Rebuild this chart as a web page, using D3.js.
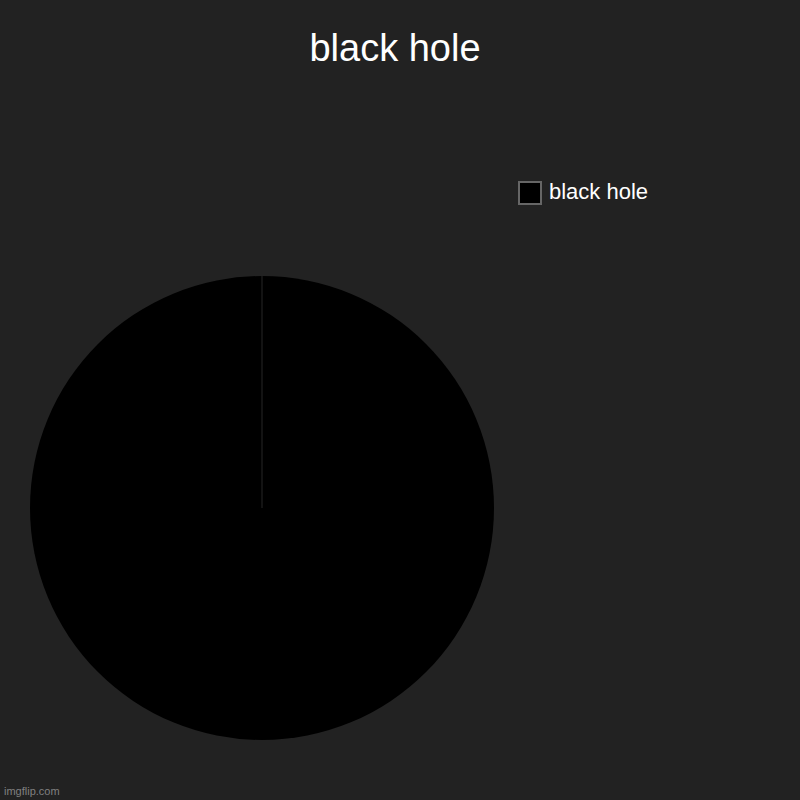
<!DOCTYPE html>
<html>
<head>
<meta charset="utf-8">
<script src="https://cdn.jsdelivr.net/npm/d3@7"></script>
<style>
  html, body { margin: 0; padding: 0; background: #222222; }
</style>
</head>
<body>
<div id="chart"></div>
<script>
// The data...
var chartTitle = 'black hole';
var labels     = [ 'black hole' ];
var values     = [ 100 ];
var colours    = [ '#000000' ];

var width  = 800;
var height = 800;

var svg = d3.select ('#chart').append ('svg')
            .attr ('width', width)
            .attr ('height', height)
            .style ('display', 'block');

svg.append ('rect')
   .attr ('width', width)
   .attr ('height', height)
   .attr ('fill', '#222222');

// title
svg.append ('text')
   .attr ('x', 395)
   .attr ('y', 61)
   .attr ('text-anchor', 'middle')
   .attr ('font-family', 'Liberation Sans, Arial, sans-serif')
   .attr ('font-size', '38px')
   .attr ('fill', '#ffffff')
   .text (chartTitle);

// pie
var radius = 232;
var pie = d3.pie ().sort (null).value (function (d) { return d; });
var arc = d3.arc ().innerRadius (0).outerRadius (radius);

var g = svg.append ('g')
           .attr ('transform', 'translate(262,508)');

var pieData = pie (values);

g.selectAll ('path')
 .data (pieData)
 .enter ()
 .append ('path')
 .attr ('d', arc)
 .attr ('fill', function (d, i) { return colours[i]; });

// the seam line where the single slice starts/ends
g.append ('line')
 .attr ('x1', 0)
 .attr ('y1', 0)
 .attr ('x2', radius * Math.sin (pieData[0].startAngle))
 .attr ('y2', -radius * Math.cos (pieData[0].startAngle))
 .attr ('stroke', '#262626')
 .attr ('stroke-width', 1);

// legend
var legend = svg.append ('g')
                .attr ('transform', 'translate(519,182)');

legend.selectAll ('rect')
      .data (labels)
      .enter ()
      .append ('rect')
      .attr ('x', 0)
      .attr ('y', function (d, i) { return i * 28; })
      .attr ('width', 22)
      .attr ('height', 22)
      .attr ('fill', function (d, i) { return colours[i]; })
      .attr ('stroke', '#666666')
      .attr ('stroke-width', 2);

legend.selectAll ('text')
      .data (labels)
      .enter ()
      .append ('text')
      .attr ('x', 30)
      .attr ('y', function (d, i) { return i * 28 + 17; })
      .attr ('font-family', 'Liberation Sans, Arial, sans-serif')
      .attr ('font-size', '22px')
      .attr ('fill', '#ffffff')
      .text (function (d) { return d; });

// watermark
svg.append ('text')
   .attr ('x', 4)
   .attr ('y', 795)
   .attr ('font-family', 'Liberation Sans, Arial, sans-serif')
   .attr ('font-size', '11px')
   .attr ('fill', '#808080')
   .text ('imgflip.com');
</script>
</body>
</html>
